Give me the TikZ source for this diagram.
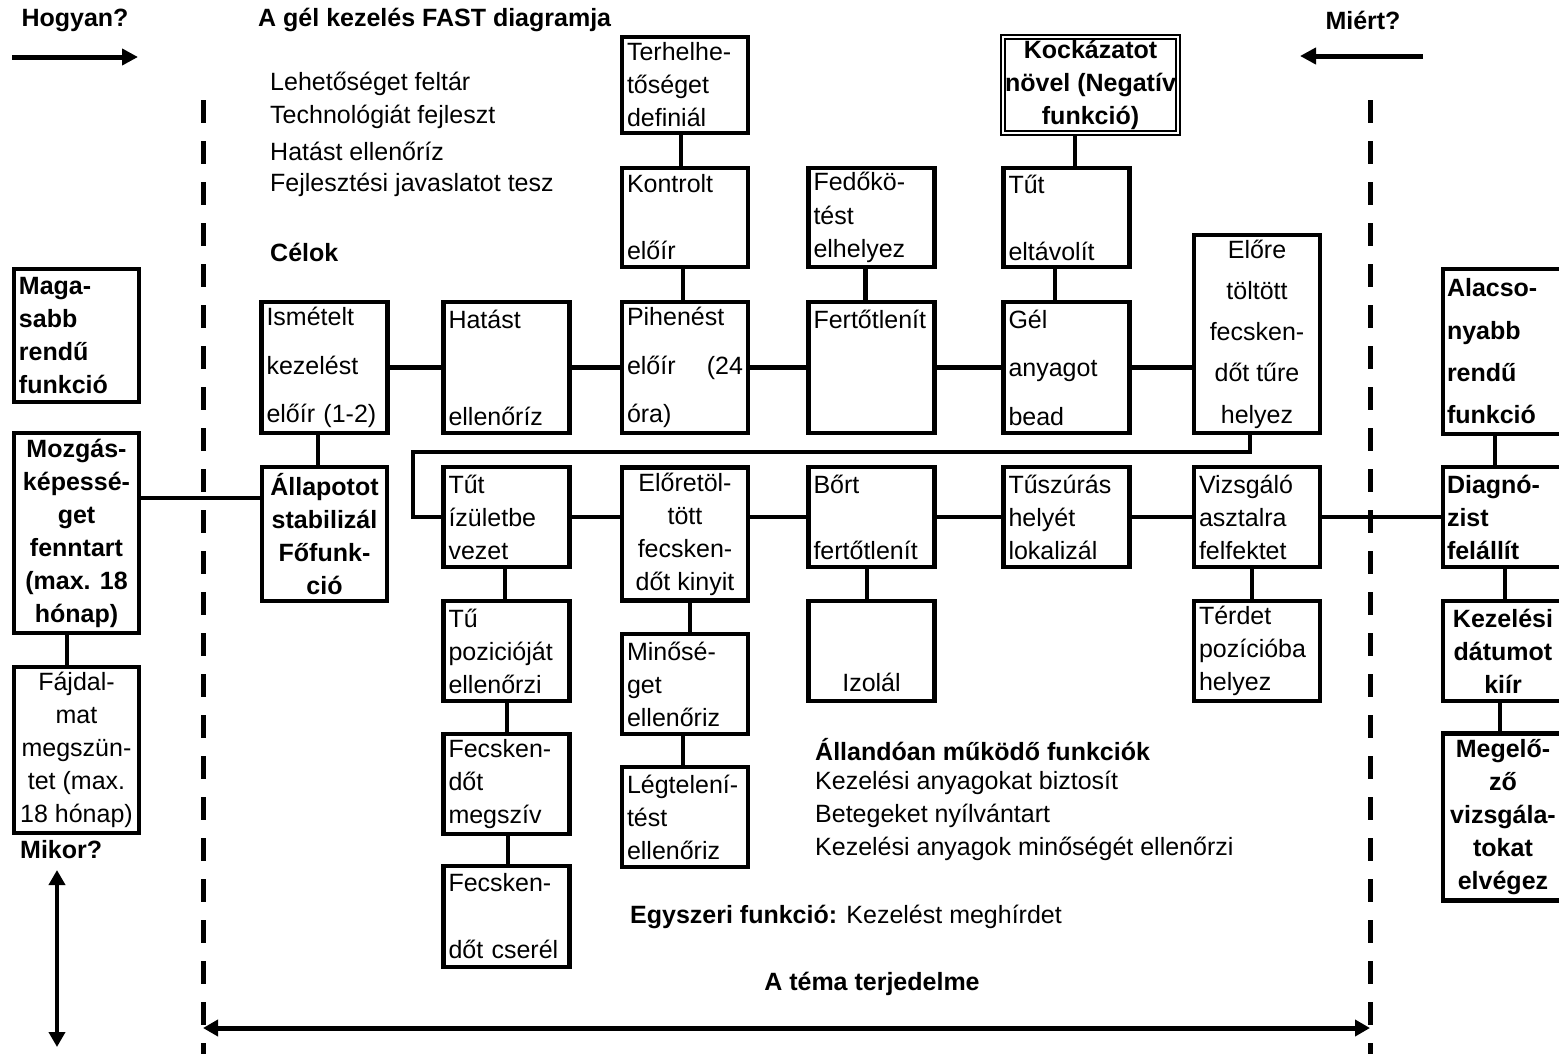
\documentclass[tikz,border=0pt]{standalone}
\usepackage{fontspec}
\setmainfont{Liberation Sans}
\usetikzlibrary{arrows.meta}
\newcommand\fsz[1]{\fontsize{25}{#1}\selectfont}
\begin{document}
\begin{tikzpicture}[x=1pt,y=-1pt,
  every node/.style={font=\fsz{30}, inner sep=0pt},
  bxl/.style={draw, line width=4.5pt, minimum width=126pt, text width=116pt, align=left},
  bxc/.style={draw, line width=4.5pt, minimum width=126pt, align=center},
  ln/.style={line width=4.5pt},
  dsh/.style={line width=5pt, dash pattern=on 23pt off 18pt},
  arr/.style={line width=5pt, -{Triangle[length=16pt,width=16pt]}},
  darr/.style={line width=4.5pt, {Triangle[length=15pt,width=16pt]}-{Triangle[length=15pt,width=16pt]}},
  lbl/.style={anchor=west}]
\useasboundingbox (0,0) rectangle (1559,1053);
\clip (0,0) rectangle (1559,1053);

% headings
\node[font=\fsz{30}\bfseries] (how) at (75,20) {Hogyan?};
\node[font=\fsz{30}\bfseries, anchor=west] (title) at (258,20) {A gél kezelés FAST diagramja};
\node[font=\fsz{30}\bfseries] (why) at (1363,20) {Miért?};
\coordinate (hs) at (12,57); \coordinate (he) at (138,57);
\draw[arr] (hs) -- (he);
\coordinate (ws) at (1423,56); \coordinate (we) at (1300,56);
\draw[arr] (ws) -- (we);

% goals
\node[lbl] (g1) at (270,84) {Lehetőséget feltár};
\node[lbl] (g2) at (270,117) {Technológiát fejleszt};
\node[lbl] (g3) at (270,151) {Hatást ellenőríz};
\node[lbl] (g4) at (270,185) {Fejlesztési javaslatot tesz};
\node[lbl, font=\fsz{30}\bfseries] (cel) at (270,252) {Célok};

% dashed scope lines
\coordinate (dl1) at (203,100); \coordinate (dl2) at (203,1060);
\coordinate (dr1) at (1370,100); \coordinate (dr2) at (1370,1060);
\draw[dsh] (dl1) -- (dl2);
\draw[dsh] (dr1) -- (dr2);

% boxes
\node[bxl, minimum height=96pt, font=\fsz{33}] (terh) at (685,85) {Terhelhe-\\tőséget\\definiál};
\node[draw, double, double distance=2pt, line width=2pt, minimum width=175pt, minimum height=96pt, align=center, font=\fsz{33}\bfseries] (kock) at (1090.5,85) {Kockázatot\\növel (Negatív\\funkció)};
\node[bxl, minimum height=99pt, font=\fsz{33.5}] (kontr) at (685,217.5) {Kontrolt\\\mbox{}\\előír};
\node[bxl, minimum height=99pt, font=\fsz{33.5}] (fedo) at (871.5,217.5) {Fedőkö-\\tést\\elhelyez};
\node[bxl, minimum height=99pt, font=\fsz{33.5}] (tutel) at (1066.5,217.5) {Tűt\\\mbox{}\\eltávolít};
\node[bxc, minimum height=198pt, font=\fsz{41.25}] (elore) at (1257,334) {Előre\\töltött\\fecsken-\\dőt tűre\\helyez};
\node[bxl, minimum height=131pt, font=\fsz{48.5}] (ismet) at (324.5,367.5) {Ismételt\\kezelést\\előír (1-2)};
\node[bxl, minimum height=131pt, font=\fsz{48.5}] (hatast) at (506.5,367.5) {Hatást\\\mbox{}\\ellenőríz};
\node[bxl, minimum height=131pt, font=\fsz{48.5}] (pihen) at (685,367.5) {Pihenést\\előír\hfill(24\\óra)};
\node[bxl, minimum height=131pt, font=\fsz{48.5}] (fertot) at (871.5,367.5) {Fertőtlenít\\\mbox{}\\\mbox{}};
\node[bxl, minimum height=131pt, font=\fsz{48.5}] (gel) at (1066.5,367.5) {Gél\\anyagot\\bead};

\node[bxl, minimum width=125pt, text width=115pt, minimum height=133pt, font=\fsz{33}\bfseries] (maga) at (76.5,335.5) {Maga-\\sabb\\rendű\\funkció};
\node[bxc, minimum width=125pt, minimum height=200pt, font=\fsz{33}\bfseries] (mozg) at (76.5,533) {Mozgás-\\képessé-\\get\\fenntart\\(max. 18\\hónap)};
\node[bxc, minimum width=125pt, minimum height=166pt, font=\fsz{33}] (fajd) at (76.5,750) {Fájdal-\\mat\\megszün-\\tet (max.\\18 hónap)};
\node[bxc, minimum width=125pt, minimum height=134pt, font=\fsz{33}\bfseries] (allap) at (324.5,534) {Állapotot\\stabilizál\\Főfunk-\\ció};

\node[bxl, minimum height=100pt, font=\fsz{33}] (tutiz) at (506.5,517) {Tűt\\ízületbe\\vezet};
\node[bxc, minimum height=133pt, font=\fsz{33}] (eloret) at (685,534) {Előretöl-\\tött\\fecsken-\\dőt kinyit};
\node[bxl, minimum height=100pt, font=\fsz{33}] (bort) at (871.5,517) {Bőrt\\\mbox{}\\fertőtlenít};
\node[bxl, minimum height=100pt, font=\fsz{33}] (tusz) at (1066.5,517) {Tűszúrás\\helyét\\lokalizál};
\node[bxl, minimum height=100pt, font=\fsz{33}] (vizsg) at (1257,517) {Vizsgáló\\asztalra\\felfektet};

\node[bxl, minimum width=120pt, text width=112pt, minimum height=165pt, font=\fsz{42.3}\bfseries] (alacs) at (1503,351.5) {Alacso-\\nyabb\\rendű\\funkció};
\node[bxl, minimum width=120pt, text width=112pt, minimum height=100pt, font=\fsz{33}\bfseries] (diag) at (1503,517) {Diagnó-\\zist\\felállít};
\node[bxc, minimum width=120pt, minimum height=100pt, font=\fsz{33}\bfseries] (kezel) at (1503,651) {Kezelési\\dátumot\\kiír};
\node[bxc, minimum width=120pt, minimum height=167pt, font=\fsz{33}\bfseries] (megel) at (1503,817) {Megelő-\\ző\\vizsgála-\\tokat\\elvégez};

\node[bxl, minimum height=100pt, font=\fsz{33}] (tupoz) at (506.5,651) {Tű\\pozicióját\\ellenőrzi};
\node[bxl, minimum height=100pt, font=\fsz{33}] (minos) at (685,684) {Minősé-\\get\\ellenőriz};
\node[bxc, minimum height=100pt, font=\fsz{33}] (izol) at (871.5,651) {\rule{0pt}{15pt}\\\mbox{}\\Izolál};
\node[bxl, minimum height=100pt, font=\fsz{33}] (terdet) at (1257,651) {Térdet\\pozícióba\\helyez};
\node[bxl, minimum height=100pt, font=\fsz{33}] (fecsm) at (506.5,784) {Fecsken-\\dőt\\megszív};
\node[bxl, minimum height=100pt, font=\fsz{33}] (legt) at (685,817) {Légtelení-\\tést\\ellenőriz};
\node[bxl, minimum height=101pt, font=\fsz{33.5}] (fecsc) at (506.5,916.5) {Fecsken-\\\mbox{}\\dőt cserél};

% connectors
\draw[ln] ([xshift=-4pt]terh.south) -- ([xshift=-4pt]kontr.north);
\draw[ln] ([xshift=-2pt]kontr.south) -- ([xshift=-2pt]pihen.north);
\draw[ln] ([xshift=-6pt]fedo.south) -- ([xshift=-6pt]fertot.north);
\draw[ln] ([xshift=-15.5pt]kock.south) -- ([xshift=8.5pt]tutel.north);
\draw[ln] ([xshift=-11.5pt]tutel.south) -- ([xshift=-11.5pt]gel.north);
\draw[ln] ([xshift=-6.5pt]ismet.south) -- ([xshift=-6.5pt]allap.north);
\draw[ln] (ismet.east) -- (hatast.west);
\draw[ln] (hatast.east) -- (pihen.west);
\draw[ln] (pihen.east) -- (fertot.west);
\draw[ln] (fertot.east) -- (gel.west);
\draw[ln] (gel.east) -- (gel.east -| elore.west);
\draw[ln] ([yshift=35pt]mozg.east) -- ([yshift=36pt]allap.west);
\coordinate (bend) at (413,452);
\draw[ln] ([xshift=-7pt]elore.south) |- (bend) |- (tutiz.west);
\draw[ln] (tutiz.east) -- (tutiz.east -| eloret.west);
\draw[ln] (bort.west -| eloret.east) -- (bort.west);
\draw[ln] (bort.east) -- (tusz.west);
\draw[ln] (tusz.east) -- (vizsg.west);
\draw[ln] (vizsg.east) -- (diag.west);
\draw[ln] ([xshift=-1.5pt]tutiz.south) -- ([xshift=-1.5pt]tupoz.north);
\draw[ln] ([xshift=5pt]eloret.south) -- ([xshift=5pt]minos.north);
\draw[ln] ([xshift=-4.5pt]bort.south) -- ([xshift=-4.5pt]izol.north);
\draw[ln] ([xshift=-5pt]vizsg.south) -- ([xshift=-5pt]terdet.north);
\draw[ln] ([xshift=-8pt]alacs.south) -- ([xshift=-8pt]diag.north);
\draw[ln] ([xshift=2pt]diag.south) -- ([xshift=2pt]kezel.north);
\draw[ln] ([xshift=-3pt]kezel.south) -- ([xshift=-3pt]megel.north);
\draw[ln] ([xshift=-9.5pt]mozg.south) -- ([xshift=-9.5pt]fajd.north);
\draw[ln] ([xshift=0.5pt]tupoz.south) -- ([xshift=0.5pt]fecsm.north);
\draw[ln] ([xshift=1.5pt]fecsm.south) -- ([xshift=1.5pt]fecsc.north);
\draw[ln] ([xshift=-2pt]minos.south) -- ([xshift=-2pt]legt.north);

% other texts
\node[lbl, font=\fsz{30}\bfseries] (mikor) at (20,850) {Mikor?};
\coordinate (m1) at (57,870); \coordinate (m2) at (57,1047);
\draw[darr] (m1) -- (m2);
\node[lbl, font=\fsz{30}\bfseries] (alland) at (815,750) {Állandóan működő funkciók};
\node[lbl] (a1) at (815,783) {Kezelési anyagokat biztosít};
\node[lbl] (a2) at (815,816) {Betegeket nyílvántart};
\node[lbl] (a3) at (815,849) {Kezelési anyagok minőségét ellenőrzi};
\node[lbl] (egy) at (630,917) {\bfseries Egyszeri funkció: \mdseries Kezelést meghírdet};
\node[font=\fsz{30}\bfseries] (tema) at (872,984) {A téma terjedelme};
\coordinate (t1) at (203,1028); \coordinate (t2) at (1370,1028);
\draw[darr, line width=5pt] (t1) -- (t2);
\end{tikzpicture}
\end{document}
